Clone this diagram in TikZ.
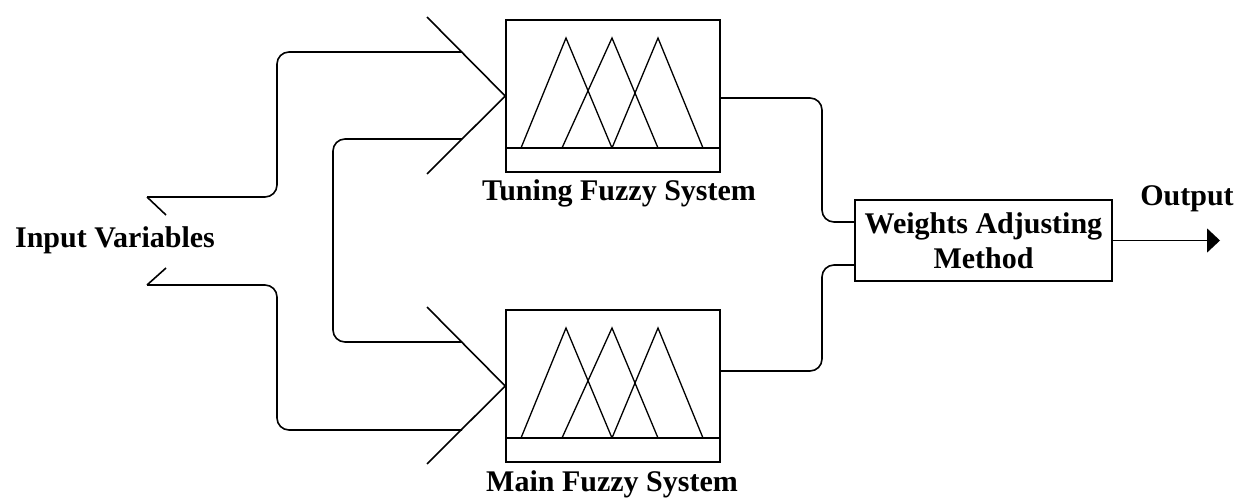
\documentclass[tikz,border=0pt]{standalone}
\usepackage{fontspec}
\setmainfont{Liberation Serif}
\usetikzlibrary{arrows.meta}
\begin{document}
\begin{tikzpicture}[x=1pt,y=-1pt,line width=1.6pt,
  fbox/.style={draw,minimum width=214pt,minimum height=152pt,inner sep=0pt},
  wbox/.style={draw,minimum width=257pt,minimum height=81pt,inner sep=0pt,align=center},
  lbl/.style={font=\fontsize{30}{35}\selectfont\bfseries,inner sep=0pt,align=center},
  conn/.style={rounded corners=12pt},
  chev/.style={line join=miter}]
\useasboundingbox (0,0) rectangle (1240,500);
% boxes
\node[fbox] (T) at (613,96) {};
\node[fbox] (M) at (613,386) {};
\node[wbox] (W) at (983.5,240.5) {};
\node[lbl] at (W.center) {Weights Adjusting\\Method};
% membership functions
\foreach \o in {0,290}{
  \draw[line width=1.6pt] (506,148+\o) -- (720,148+\o);
  \draw[line width=1.3pt] (521,148+\o) -- (566,38+\o) -- (612,148+\o);
  \draw[line width=1.3pt] (562,148+\o) -- (612,38+\o) -- (658,148+\o);
  \draw[line width=1.3pt] (612,148+\o) -- (658,38+\o) -- (703,148+\o);
}
% labels
\node[lbl] (TL) at (619,193) {Tuning Fuzzy System};
\node[lbl] (ML) at (612,484) {Main Fuzzy System};
\node[lbl] (IV) at (115,240) {Input Variables};
\node[lbl] (OL) at (1187,199) {Output};
% chevrons
\coordinate (Ta) at (427,17);
\coordinate (Tb) at (427,174);
\coordinate (Ma) at (427,307);
\coordinate (Mb) at (427,464);
\draw[chev] (Ta) -- (T.west) -- (Tb);
\draw[chev] (Ma) -- (M.west) -- (Mb);
% input tails
\coordinate (I1) at (147,197);
\coordinate (I2) at (147,285);
\draw[chev] (166,215) -- (I1);
\draw[chev] (166,268) -- (I2);
% input connectors
\coordinate (t1) at (462,52);
\coordinate (t2) at (462,139);
\coordinate (m1) at (462,342);
\coordinate (m2) at (462,430);
\draw[conn] (I1) -| (277,120) |- (t1);
\draw[conn] (t2) -| (333,240) |- (m1);
\draw[conn] (I2) -| (277,360) |- (m2);
% outputs to weights
\draw[conn] (T.east |- 0,98) -| (822,160) |- (W.west |- 0,222);
\draw[conn] (M.east |- 0,371) -| (822,300) |- (W.west |- 0,265);
% output arrow
\coordinate (O) at (1220,240.5);
\draw[-{Triangle[length=13pt,width=24pt]}] (W.east) -- (O);
\end{tikzpicture}
\end{document}
